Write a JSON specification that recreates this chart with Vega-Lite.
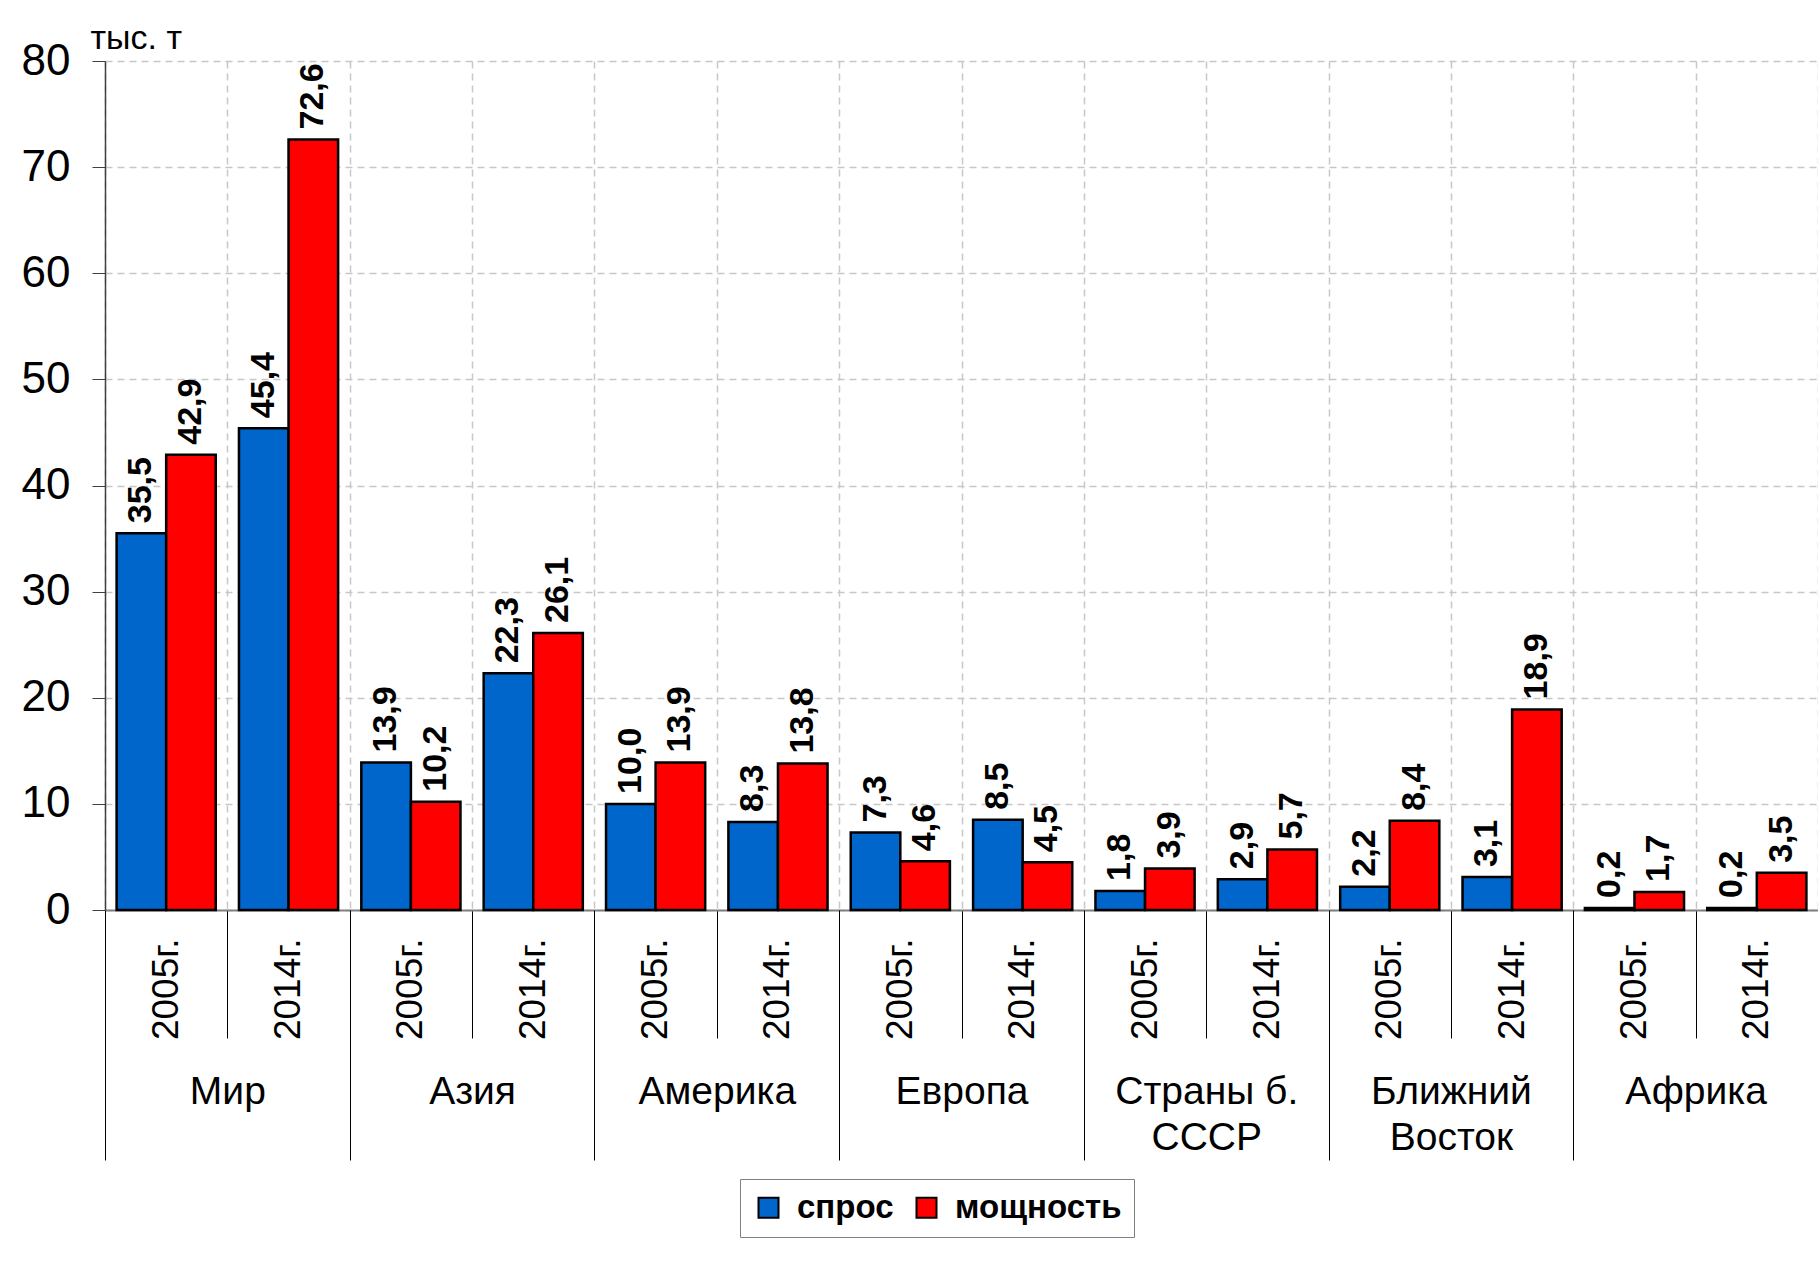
{
  "$schema": "https://vega.github.io/schema/vega-lite/v6.json",
  "width": 1713,
  "height": 849,
  "autosize": {"type": "none"},
  "padding": {"left": 105, "top": 61, "right": 0, "bottom": 351},
  "background": "white",
  "config": {
    "font": "Liberation Sans",
    "view": {"stroke": null},
    "locale": {"number": {"decimal": ",", "thousands": " ", "grouping": [3], "currency": ["", ""]}}
  },
  "data": {
    "values": [
      {"region": "Мир", "key": "Мир|2005г.", "series": "спрос", "value": 35.5},
      {"region": "Мир", "key": "Мир|2005г.", "series": "мощность", "value": 42.9},
      {"region": "Мир", "key": "Мир|2014г.", "series": "спрос", "value": 45.4},
      {"region": "Мир", "key": "Мир|2014г.", "series": "мощность", "value": 72.6},
      {"region": "Азия", "key": "Азия|2005г.", "series": "спрос", "value": 13.9},
      {"region": "Азия", "key": "Азия|2005г.", "series": "мощность", "value": 10.2},
      {"region": "Азия", "key": "Азия|2014г.", "series": "спрос", "value": 22.3},
      {"region": "Азия", "key": "Азия|2014г.", "series": "мощность", "value": 26.1},
      {"region": "Америка", "key": "Америка|2005г.", "series": "спрос", "value": 10.0},
      {"region": "Америка", "key": "Америка|2005г.", "series": "мощность", "value": 13.9},
      {"region": "Америка", "key": "Америка|2014г.", "series": "спрос", "value": 8.3},
      {"region": "Америка", "key": "Америка|2014г.", "series": "мощность", "value": 13.8},
      {"region": "Европа", "key": "Европа|2005г.", "series": "спрос", "value": 7.3},
      {"region": "Европа", "key": "Европа|2005г.", "series": "мощность", "value": 4.6},
      {"region": "Европа", "key": "Европа|2014г.", "series": "спрос", "value": 8.5},
      {"region": "Европа", "key": "Европа|2014г.", "series": "мощность", "value": 4.5},
      {"region": "Страны б. СССР", "key": "Страны б. СССР|2005г.", "series": "спрос", "value": 1.8},
      {"region": "Страны б. СССР", "key": "Страны б. СССР|2005г.", "series": "мощность", "value": 3.9},
      {"region": "Страны б. СССР", "key": "Страны б. СССР|2014г.", "series": "спрос", "value": 2.9},
      {"region": "Страны б. СССР", "key": "Страны б. СССР|2014г.", "series": "мощность", "value": 5.7},
      {"region": "Ближний Восток", "key": "Ближний Восток|2005г.", "series": "спрос", "value": 2.2},
      {"region": "Ближний Восток", "key": "Ближний Восток|2005г.", "series": "мощность", "value": 8.4},
      {"region": "Ближний Восток", "key": "Ближний Восток|2014г.", "series": "спрос", "value": 3.1},
      {"region": "Ближний Восток", "key": "Ближний Восток|2014г.", "series": "мощность", "value": 18.9},
      {"region": "Африка", "key": "Африка|2005г.", "series": "спрос", "value": 0.2},
      {"region": "Африка", "key": "Африка|2005г.", "series": "мощность", "value": 1.7},
      {"region": "Африка", "key": "Африка|2014г.", "series": "спрос", "value": 0.2},
      {"region": "Африка", "key": "Африка|2014г.", "series": "мощность", "value": 3.5}
    ]
  },
  "layer": [
    {
      "encoding": {
        "x": {
          "field": "key", "type": "nominal", "sort": null,
          "scale": {"type": "band", "paddingInner": 0, "paddingOuter": 0},
          "axis": {
            "orient": "bottom", "title": null,
            "labelExpr": "split(datum.label, '|')[1]",
            "labelAngle": -90, "labelFontSize": 37, "labelColor": "black",
            "labelPadding": -100, "labelLimit": 400,
            "tickSize": 128, "tickBand": "extent", "tickColor": "black", "tickWidth": 1,
            "domainColor": "#808080", "domainWidth": 2,
            "grid": true, "gridDash": [7, 5], "gridColor": "#c8c8c8", "gridWidth": 1.5
          }
        },
        "xOffset": {
          "field": "series", "type": "nominal", "sort": ["спрос", "мощность"],
          "scale": {"type": "band", "paddingInner": 0, "paddingOuter": 0.234}
        },
        "y": {
          "field": "value", "type": "quantitative",
          "scale": {"domain": [0, 80], "nice": false},
          "axis": {
            "values": [0, 10, 20, 30, 40, 50, 60, 70, 80],
            "title": "тыс. т", "titleAngle": 0, "titleAlign": "left", "titleBaseline": "alphabetic",
            "titleX": -15, "titleY": -13, "titleFontSize": 34, "titleFontWeight": "normal", "titleColor": "black",
            "labelFontSize": 44, "labelColor": "black", "labelPadding": 22,
            "tickSize": 13, "tickColor": "#404040", "domainColor": "#404040", "domainWidth": 1.5,
            "grid": true, "gridDash": [7, 5], "gridColor": "#c8c8c8", "gridWidth": 1.5
          }
        }
      },
      "layer": [
        {
          "mark": {"type": "bar", "stroke": "black", "strokeWidth": 2.5},
          "encoding": {
            "color": {
              "field": "series", "type": "nominal",
              "scale": {"domain": ["спрос", "мощность"], "range": ["#0066CC", "#FF0000"]},
              "legend": {
                "title": null, "orient": "none", "legendX": 635, "legendY": 1118,
                "direction": "horizontal", "symbolType": "square", "symbolSize": 400,
                "symbolStrokeColor": "black", "symbolStrokeWidth": 2, "symbolOpacity": 1,
                "labelFontSize": 33, "labelFontWeight": "bold", "labelColor": "black", "labelLimit": 400,
                "labelOffset": 12, "columnPadding": 16, "padding": 12,
                "strokeColor": "#808080", "fillColor": "white"
              }
            }
          }
        },
        {
          "mark": {"type": "text", "angle": -90, "align": "left", "baseline": "middle", "dx": 10, "fontSize": 34, "fontWeight": "bold", "color": "black"},
          "encoding": {
            "text": {"field": "value", "type": "quantitative", "format": ".1f"}
          }
        }
      ]
    },
    {
      "mark": {"type": "bar", "opacity": 0},
      "encoding": {
        "x": {
          "field": "region", "type": "nominal", "sort": null,
          "scale": {"type": "band", "paddingInner": 0, "paddingOuter": 0},
          "axis": {
            "orient": "bottom", "title": null, "labelAngle": 0,
            "labelExpr": "datum.label == 'Страны б. СССР' ? ['Страны б.', 'СССР'] : datum.label == 'Ближний Восток' ? ['Ближний', 'Восток'] : datum.label",
            "labelFontSize": 39, "labelColor": "black", "labelBaseline": "top",
            "labelPadding": -88, "labelLineHeight": 46, "labelLimit": 400,
            "tickSize": 250, "tickBand": "extent", "tickColor": "black", "tickWidth": 1,
            "domain": false, "grid": false
          }
        }
      }
    }
  ],
  "resolve": {"scale": {"x": "independent"}, "axis": {"x": "independent"}}
}
